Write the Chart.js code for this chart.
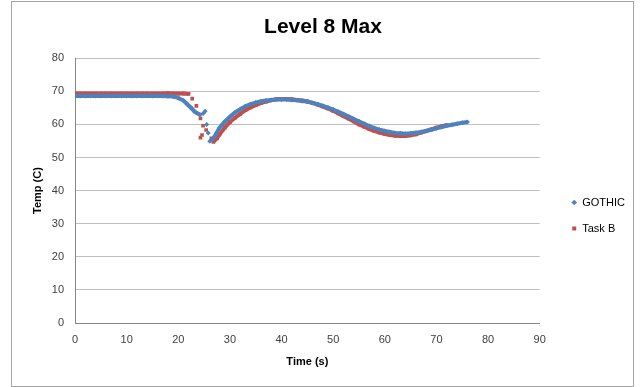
<!DOCTYPE html>
<html lang="en">
<head>
  <meta charset="UTF-8" />
  <title>Level 8 Max</title>
  <script src="https://cdn.jsdelivr.net/npm/chart.js"></script>
  <style>
    body { margin: 0; background: #fff; }
    #frame { position: absolute; left: 11px; top: 1px; width: 621px; height: 384px; border: 1px solid #a6a6a6; }
    #wrap { position: absolute; left: 0; top: 0; width: 642px; height: 387px; }
  </style>
</head>
<body>
  <div id="frame"></div>
  <div id="wrap"><canvas id="chart" width="642" height="387"></canvas></div>

  <script>
    // GOTHIC series (time s, temp C)
    const gothicTime = [0, 1, 2, 3, 4, 5, 6, 7, 8, 9, 10, 11, 12, 13, 14, 15, 16, 17, 18, 19,
      20, 21, 21.6, 22.6, 23.2, 24.2, 24.8, 25.2, 25.5, 25.8, 26.1, 26.5,
      26.8, 27.5, 28, 29, 30, 31, 32, 33, 34, 35, 36, 37, 38, 39, 40, 41, 42, 43, 44, 45,
      46, 47, 48, 49, 50, 51, 52, 53, 54, 55, 56, 57, 58, 59, 60, 61, 62, 63, 64, 65,
      66, 67, 68, 69, 70, 71, 72, 73, 74, 75, 76];
    const gothicTemp = [68.6, 68.6, 68.6, 68.6, 68.6, 68.6, 68.6, 68.6, 68.6, 68.6, 68.6, 68.6, 68.6, 68.6, 68.6, 68.6, 68.6, 68.6, 68.5, 68.4,
      68.0, 67.2, 66.3, 64.8, 63.8, 62.9, 63.3, 64.0, 60.0, 57.4, 54.9, 55.2,
      55.8, 57.6, 59.0, 60.8, 62.3, 63.6, 64.6, 65.5, 66.1, 66.6, 67.0, 67.2, 67.4, 67.5, 67.5, 67.5, 67.4, 67.3, 67.1, 66.9,
      66.5, 66.1, 65.6, 65.1, 64.5, 63.8, 63.1, 62.4, 61.6, 60.9, 60.2, 59.5, 58.9, 58.4, 58.0, 57.7, 57.4, 57.3, 57.2, 57.3,
      57.5, 57.7, 58.0, 58.4, 58.8, 59.2, 59.6, 59.9, 60.2, 60.5, 60.7];

    // Task B series (time s, temp C)
    const taskBTime = [0, 1, 2, 3, 4, 5, 6, 7, 8, 9, 10, 11, 12, 13, 14, 15, 16, 17, 18, 19, 20, 21, 22,
      22.7, 23.5, 24.3, 24.8, 25.4, 24.6, 24.3, 26.4, 26.8,
      27.5, 28, 29, 30, 31, 32, 33, 34, 35, 36, 37, 38, 39, 40, 41, 42, 43, 44, 45,
      46, 47, 48, 49, 50, 51, 52, 53, 54, 55, 56, 57, 58, 59, 60, 61, 62, 63, 64, 65,
      66, 67, 68, 69, 70, 71, 72];
    const taskBTemp = [69.3, 69.3, 69.3, 69.3, 69.3, 69.3, 69.3, 69.3, 69.3, 69.3, 69.3, 69.3, 69.3, 69.3, 69.3, 69.3, 69.3, 69.3, 69.4, 69.3, 69.3, 69.3, 69.2,
      67.8, 65.6, 61.8, 59.6, 58.3, 56.8, 56.0, 55.8, 54.7,
      55.8, 57.0, 59.0, 60.7, 62.0, 63.2, 64.3, 65.1, 65.8, 66.4, 66.9, 67.3, 67.6, 67.7, 67.7, 67.6, 67.4, 67.2, 66.9,
      66.5, 66.0, 65.4, 64.8, 64.1, 63.3, 62.5, 61.7, 60.9, 60.0, 59.3, 58.6, 58.0, 57.5, 57.1, 56.8, 56.6, 56.5, 56.5, 56.7,
      57.0, 57.5, 58.0, 58.5, 59.0, 59.4, 59.8];

    const xTicks = [0, 10, 20, 30, 40, 50, 60, 70, 80, 90];
    const yTicks = [0, 10, 20, 30, 40, 50, 60, 70, 80];

    const blue = '#4f81bd';
    const red = '#c0504d';

    function toPoints(xs, ys) {
      return xs.map((x, i) => ({ x: x, y: ys[i] }));
    }

    // gap the line where the reference shows loose markers
    function gapped(color, from, to) {
      return ctx => {
        const a = ctx.p0.parsed.x, b = ctx.p1.parsed.x;
        return (a > from && a < to) || (b > from && b < to) ? 'rgba(0,0,0,0)' : color;
      };
    }

    // nudge the legend and title to where the reference has them
    const boxShift = {
      id: 'boxShift',
      afterLayout(chart) {
        const l = chart.legend;
        l.left += 17; l.right += 17;
        l.top += 22; l.bottom += 22;
        const t = chart.titleBlock;
        t.left += 14; t.right += 14;
      }
    };

    const font = 'Liberation Sans, Arial, sans-serif';

    new Chart(document.getElementById('chart'), {
      type: 'scatter',
      data: {
        datasets: [{
          label: 'GOTHIC',
          data: toPoints(gothicTime, gothicTemp),
          showLine: true,
          borderColor: blue,
          backgroundColor: blue,
          borderWidth: 4,
          pointStyle: 'rectRot',
          pointRadius: 2.5,
          pointBorderWidth: 0,
          segment: { borderColor: gapped(blue, 24.5, 26.6) }
        }, {
          label: 'Task B',
          data: toPoints(taskBTime, taskBTemp),
          showLine: true,
          borderColor: red,
          backgroundColor: red,
          borderWidth: 4,
          pointStyle: 'rect',
          pointRadius: 2.6,
          pointBorderWidth: 0,
          segment: { borderColor: gapped(red, 22.3, 26.7) }
        }]
      },
      options: {
        responsive: false,
        animation: false,
        layout: { padding: { left: 0, right: 24, top: 0, bottom: 0 } },
        plugins: {
          title: {
            display: true,
            text: 'Level 8 Max',
            color: '#000',
            font: { family: font, size: 21, weight: 'bold' },
            padding: { top: 15, bottom: 18 }
          },
          legend: {
            position: 'right',
            labels: {
              usePointStyle: true,
              boxWidth: 5,
              boxHeight: 4,
              padding: 15,
              color: '#000',
              font: { family: font, size: 11 }
            }
          },
          tooltip: { enabled: false }
        },
        scales: {
          x: {
            type: 'linear',
            min: 0,
            max: 90,
            afterBuildTicks: s => { s.ticks = xTicks.map(v => ({ value: v })); },
            afterFit: s => { s.height = 64; },
            grid: { display: false, drawTicks: false },
            border: { display: true, color: '#868686', width: 1 },
            ticks: { color: '#404040', padding: 10, font: { family: font, size: 11 } },
            title: {
              display: true,
              text: 'Time (s)',
              color: '#000',
              font: { family: font, size: 11, weight: 'bold' },
              padding: { top: 0, bottom: 18 }
            }
          },
          y: {
            type: 'linear',
            min: 0,
            max: 80,
            afterBuildTicks: s => { s.ticks = yTicks.map(v => ({ value: v })); },
            afterFit: s => { s.width = 75; },
            grid: { color: '#bfbfbf', drawTicks: false },
            border: { display: true, color: '#868686', width: 1 },
            ticks: { color: '#404040', padding: 11, font: { family: font, size: 11 } },
            title: {
              display: true,
              text: 'Temp (C)',
              color: '#000',
              font: { family: font, size: 11, weight: 'bold' },
              padding: { top: 31, bottom: 0 }
            }
          }
        }
      },
      plugins: [boxShift]
    });
  </script>
</body>
</html>
